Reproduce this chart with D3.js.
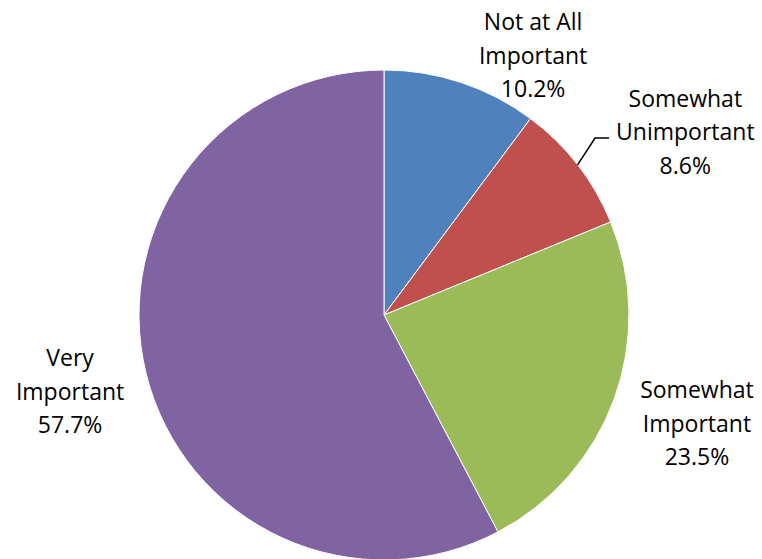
<!DOCTYPE html>
<html><head><meta charset="utf-8">
<script src="https://cdn.jsdelivr.net/npm/d3@7"></script>
<style>html,body{margin:0;padding:0;background:#fff;}</style>
</head><body>
<svg id="chart" width="762" height="559"></svg>
<script>
const categories = ["Not at All Important", "Somewhat Unimportant", "Somewhat Important", "Very Important"];
const labelLines = [["Not at All", "Important"], ["Somewhat", "Unimportant"], ["Somewhat", "Important"], ["Very", "Important"]];
const values = [10.2, 8.6, 23.5, 57.7];
const colors = ["#4F81BD", "#C0504D", "#9BBB59", "#8064A2"];
// label placement: polar (degrees clockwise from top, distance from centre)
const labelPlacement = [[29.8, 300], [58.6, 353], [109, 331], [256.4, 323]];
const leaderFor = [false, true, false, false];

const W = 762, H = 559, cx = 384, cy = 315, R = 245;
const svg = d3.select("#chart");
const g = svg.append("g").attr("transform", `translate(${cx},${cy})`);
const data = categories.map((c, i) => ({c, v: values[i], i}));
const pie = d3.pie().value(d => d.v).sort(null);
const arcs = pie(data);
const arc = d3.arc().innerRadius(0).outerRadius(R);

g.selectAll("path.slice").data(arcs).enter().append("path")
  .attr("class", "slice")
  .attr("d", arc)
  .attr("fill", d => colors[d.data.i])
  .attr("stroke", "#fff").attr("stroke-width", 1);

const lineH = 33.5;
arcs.forEach(a => {
  const i = a.data.i;
  const [ang, dist] = labelPlacement[i];
  const rad = ang * Math.PI / 180;
  const lx = Math.sin(rad) * dist, ly = -Math.cos(rad) * dist;
  const lines = labelLines[i].concat([d3.format(".1f")(a.data.v) + "%"]);
  const t = g.append("text")
    .attr("text-anchor", "middle")
    .attr("font-family", "'Open Sans', sans-serif")
    .attr("font-size", 23)
    .attr("fill", "#000");
  lines.forEach((s, k) => {
    t.append("tspan").attr("x", lx).attr("y", ly + (k - 1) * lineH)
      .attr("dominant-baseline", "central").text(s);
  });
  if (leaderFor[i]) {
    const bb = t.node().getBBox();
    const mid = (a.startAngle + a.endAngle) / 2;
    const sx = Math.sin(mid) * R, sy = -Math.cos(mid) * R;
    const ey = ly + 7;
    const ex = bb.x - 7;
    const elx = ex - 14;
    g.append("path")
      .attr("d", `M${sx},${sy}L${elx},${ey}L${ex},${ey}`)
      .attr("fill", "none").attr("stroke", "#000").attr("stroke-width", 1.5);
  }
});
</script>
</body></html>
